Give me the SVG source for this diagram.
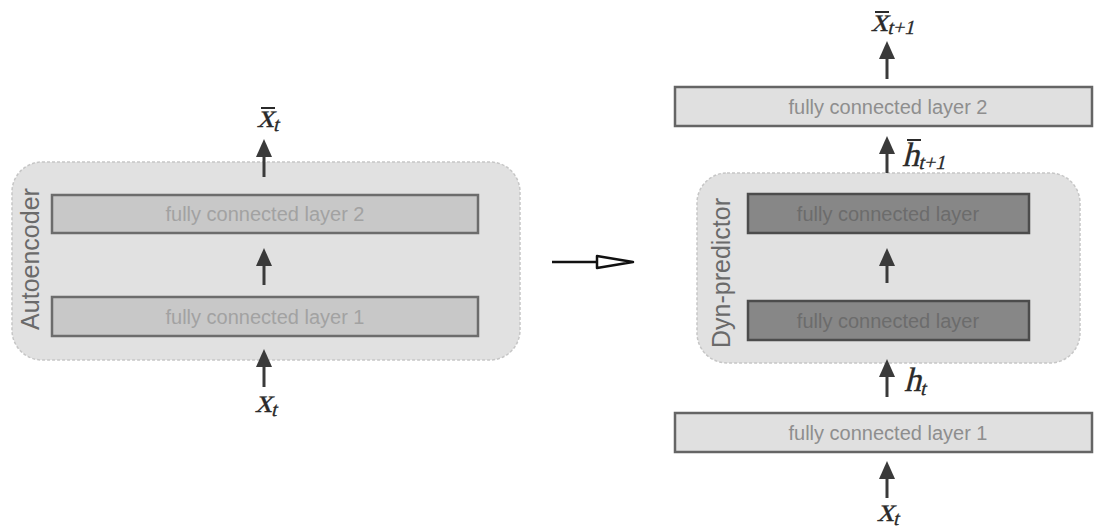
<svg xmlns="http://www.w3.org/2000/svg" width="1095" height="530" viewBox="0 0 1095 530">
  <defs>
    <marker id="head" viewBox="0 0 18 16" refX="1" refY="8" markerWidth="18" markerHeight="16" markerUnits="userSpaceOnUse" orient="auto">
      <path d="M0,0 L18,8 L0,16 z" fill="#3a3a3a"/>
    </marker>
    <style>
      .group { fill: #e1e1e1; stroke: #c6c6c6; stroke-width: 1.5; stroke-dasharray: 3 2; }
      .fc-inner { fill: #c8c8c8; stroke: #6c6c6c; stroke-width: 2.5; }
      .fc-outer { fill: #e0e0e0; stroke: #656565; stroke-width: 2.5; }
      .fc-dyn { fill: #878787; stroke: #4c4c4c; stroke-width: 2.5; }
      .lbl { font-family: "Liberation Sans", Arial, sans-serif; font-size: 20px; text-anchor: middle; dominant-baseline: central; }
      .lbl-inner { fill: #a2a2a2; }
      .lbl-outer { fill: #8e8e8e; }
      .lbl-dyn { fill: #6c6c6c; }
      .title { font-family: "Liberation Sans", Arial, sans-serif; font-size: 25px; fill: #6a6a6a; text-anchor: middle; }
      .math { font-family: "Liberation Serif", "Times New Roman", serif; font-size: 34px; fill: #2a2a2a; stroke: #2a2a2a; stroke-width: 0.3; }
      .sub { font-size: 20px; }
      .bar { stroke: #2a2a2a; stroke-width: 2; }
      .arrow { stroke: #3a3a3a; stroke-width: 3; fill: none; marker-end: url(#head); }
    </style>
  </defs>

  <rect width="1095" height="530" fill="#ffffff"/>

  <!-- Autoencoder block -->
  <g id="autoencoder">
    <rect class="group" x="12" y="162" width="508" height="198" rx="30" ry="30"/>
    <text class="title" transform="translate(39,259) rotate(-90)">Autoencoder</text>
  </g>
  <g id="ae-fc2">
    <rect class="fc-inner" x="52" y="195" width="426" height="38"/>
    <text class="lbl lbl-inner" x="265" y="214">fully connected layer 2</text>
  </g>
  <g id="ae-fc1">
    <rect class="fc-inner" x="52" y="297" width="426" height="39"/>
    <text class="lbl lbl-inner" x="265" y="316.5">fully connected layer 1</text>
  </g>

  <!-- Dyn-predictor pipeline -->
  <g id="dyn-predictor">
    <rect class="group" x="697" y="173" width="383" height="190" rx="30" ry="30"/>
    <text class="title" transform="translate(730,273) rotate(-90)">Dyn-predictor</text>
  </g>
  <g id="dyn-fc-top">
    <rect class="fc-dyn" x="748" y="194" width="281" height="39"/>
    <text class="lbl lbl-dyn" x="888" y="213.5">fully connected layer</text>
  </g>
  <g id="dyn-fc-bottom">
    <rect class="fc-dyn" x="748" y="301" width="281" height="39"/>
    <text class="lbl lbl-dyn" x="888" y="320.5">fully connected layer</text>
  </g>
  <g id="pred-fc2">
    <rect class="fc-outer" x="675" y="87" width="417" height="39"/>
    <text class="lbl lbl-outer" x="888" y="106.5">fully connected layer 2</text>
  </g>
  <g id="pred-fc1">
    <rect class="fc-outer" x="675" y="413" width="417" height="39"/>
    <text class="lbl lbl-outer" x="888" y="432.5">fully connected layer 1</text>
  </g>

  <!-- variable labels (slanted serif) -->
  <g id="labels">
    <text class="math" transform="translate(257,127) skewX(-14)">x<tspan class="sub" dy="4">t</tspan></text>
    <line class="bar" x1="261" y1="108" x2="275" y2="108"/>
    <text class="math" transform="translate(255,412) skewX(-14)">x<tspan class="sub" dy="4">t</tspan></text>

    <text class="math" transform="translate(871,31) skewX(-14)">x<tspan class="sub" dy="3">t+1</tspan></text>
    <line class="bar" x1="875" y1="12" x2="889" y2="12"/>
    <text class="math" transform="translate(902,166) skewX(-14)">h<tspan class="sub" dy="3">t+1</tspan></text>
    <line class="bar" x1="907" y1="140" x2="921" y2="140"/>
    <text class="math" transform="translate(904,391) skewX(-14)">h<tspan class="sub" dy="4">t</tspan></text>
    <text class="math" transform="translate(877,521) skewX(-14)">x<tspan class="sub" dy="4">t</tspan></text>
  </g>

  <!-- connectors -->
  <g id="connectors">
    <line class="arrow" x1="264" y1="177" x2="264" y2="156"/>
    <line class="arrow" x1="264" y1="285" x2="264" y2="265"/>
    <line class="arrow" x1="264" y1="387" x2="264" y2="366"/>

    <line class="arrow" x1="887" y1="79" x2="887" y2="58"/>
    <line class="arrow" x1="887" y1="173" x2="887" y2="153"/>
    <line class="arrow" x1="887" y1="283" x2="887" y2="265"/>
    <line class="arrow" x1="887" y1="397" x2="887" y2="376"/>
    <line class="arrow" x1="887" y1="498" x2="887" y2="478"/>

    <line x1="552" y1="262" x2="597" y2="262" stroke="#111111" stroke-width="2.5"/>
    <polygon points="597,256 633,262 597,268" fill="#ffffff" stroke="#111111" stroke-width="2.5" stroke-linejoin="round"/>
  </g>
</svg>
